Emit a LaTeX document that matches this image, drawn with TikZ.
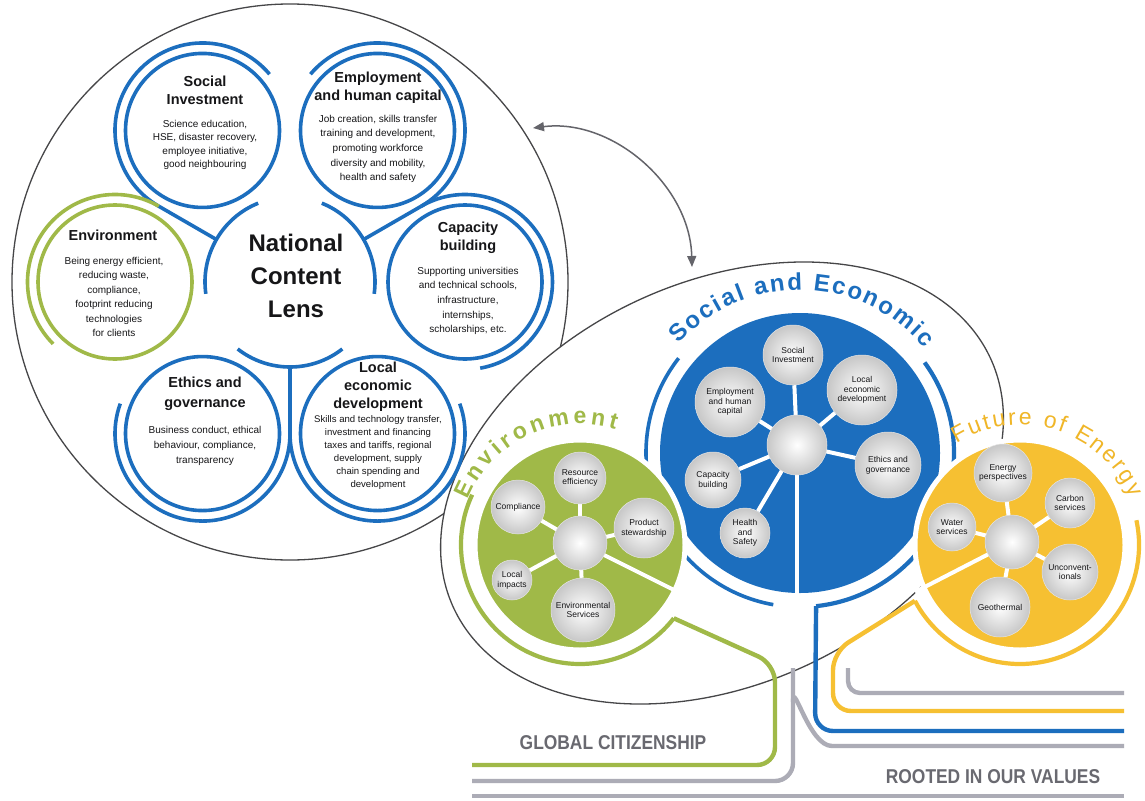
\documentclass[tikz,border=0pt]{standalone}
\usepackage{fontspec}
\setmainfont{Liberation Sans}
\usepackage{graphicx}
\usetikzlibrary{decorations.text,arrows.meta,calc}
\definecolor{nblue}{RGB}{28,110,190}
\definecolor{ngreen}{RGB}{160,185,72}
\definecolor{nyellow}{RGB}{246,192,50}
\definecolor{ntitle}{RGB}{240,182,40}
\definecolor{ngray}{RGB}{172,172,182}
\definecolor{nline}{RGB}{70,70,72}
\definecolor{ntext}{RGB}{22,22,24}
\definecolor{nlabel}{RGB}{105,105,112}
\definecolor{narrow}{RGB}{100,100,106}
\pgfdeclarelayer{bgA}
\pgfdeclarelayer{bgB}
\pgfsetlayers{bgA,bgB,main}
\begin{document}
\begin{tikzpicture}[x=1pt,y=-1pt,
  outline/.style={draw=nline, line width=1.3pt},
  bring/.style={draw=nblue, line width=3.6pt},
  ering/.style={draw=ngreen, line width=3.6pt},
  hd/.style={font=\fontsize{14.5}{18}\selectfont\bfseries, text=ntext, align=center, inner sep=0pt},
  bd/.style={font=\fontsize{10}{14}\selectfont, text=ntext, align=center, inner sep=0pt},
  wc/.style={circle, inner color=white, outer color=black!22, draw=black!10, line width=0.5pt, inner sep=0pt, align=center, font=\fontsize{8.5}{9.6}\selectfont, text=ntext},
  spoke/.style={draw=white, line width=4pt},
  disc/.style={draw=white, line width=5pt},
  rootline/.style={line width=4.4pt, rounded corners=18pt},
  lab/.style={font=\fontsize{20}{20}\selectfont\bfseries, text=nlabel, inner sep=0pt},
]
\begin{pgfonlayer}{bgA}
\fill[white] (0,0) rectangle (1145,800);
\end{pgfonlayer}
\useasboundingbox (0,0) rectangle (1145,800);

%%%%%%%%%%%%%%%% LEFT LENS
\coordinate (C) at (290,282);
\begin{pgfonlayer}{bgA}
\draw[outline] (C) circle[radius=278];
\end{pgfonlayer}
\foreach \n/\a in {1/-120,2/-60,3/0,4/60,5/120,6/180}
  \coordinate (P\n) at ($(C)+(\a:175)$);
\foreach \a in {-150,-30,90}{
  \draw[bring] ($(C)+({\a-38}:85)$) arc[start angle=\a-38, end angle=\a+38, radius=85];
  \draw[bring] ($(C)+(\a:85)$) -- ($(C)+(\a:151.55)$);
}
\foreach \n in {1,2,3,4,5} \draw[bring] (P\n) circle[radius=77];
\draw[ering] (P6) circle[radius=77];
\draw[bring] (P1) ++(120:87.5) arc[start angle=120,end angle=320,radius=87.5];
\draw[bring] (P2) ++(60:87.5) arc[start angle=60,end angle=-140,radius=87.5];
\draw[bring] (P3) ++(-120:87.5) arc[start angle=-120,end angle=80,radius=87.5];
\draw[bring] (P4) ++(180:87.5) arc[start angle=180,end angle=-20,radius=87.5];
\draw[bring] (P5) ++(0:87.5) arc[start angle=0,end angle=200,radius=87.5];
\draw[ering] (P6) ++(300:87.5) arc[start angle=300,end angle=135,radius=87.5];

\node[font=\fontsize{24}{33}\selectfont\bfseries, text=ntext, align=center] (ncl) at (296,276) {National\\Content\\Lens};

\node[hd] (t1h) at (205,90) {Social\\Investment};
\node[bd, font=\fontsize{10}{13.6}\selectfont] (t1b) at (205,145) {Science education,\\HSE, disaster recovery,\\employee initiative,\\good neighbouring};

\node[hd] (t2h) at (378,88) {Employment\\and human capital};
\node[bd, font=\fontsize{10}{14.6}\selectfont] (t2b) at (378,149) {Job creation, skills transfer\\training and development,\\promoting workforce\\diversity and mobility,\\health and safety};

\node[hd] (t3h) at (468,238) {Capacity\\building};
\node[bd, font=\fontsize{10}{14.6}\selectfont] (t3b) at (468,301) {Supporting universities\\and technical schools,\\infrastructure,\\internships,\\scholarships, etc.};

\node[hd] (t4h) at (378,387) {Local\\economic\\development};
\node[bd, font=\fontsize{9.6}{13}\selectfont] (t4b) at (378,453) {Skills and technology transfer,\\investment and financing\\taxes and tariffs, regional\\development, supply\\chain spending and\\development};

\node[hd, font=\fontsize{14.5}{20}\selectfont\bfseries] (t5h) at (205,394) {Ethics and\\governance};
\node[bd, font=\fontsize{10}{15}\selectfont] (t5b) at (205,446) {Business conduct, ethical\\behaviour, compliance,\\transparency};

\node[hd] (t6h) at (113,235) {Environment};
\node[bd, font=\fontsize{10}{14.4}\selectfont] (t6b) at (114,297) {Being energy efficient,\\reducing waste,\\compliance,\\footprint reducing\\technologies\\for clients};

%%%%%%%%%%%%%%%% RIGHT SIDE
\coordinate (B) at (800,453);
\coordinate (G) at (580,545);
\coordinate (Y) at (1020,545);
\begin{pgfonlayer}{bgA}
\draw[outline, fill=white] plot[variable=\t, domain=0:357, samples=120, smooth cycle] ({722+268.3*cos(\t)+84.9*sin(\t)}, {483-125.1*cos(\t)+182.2*sin(\t)});
% blue
\fill[nblue] (B) circle[radius=140];
\draw[bring] (B) ++(218:154) arc[start angle=218,end angle=100,radius=154];
\draw[draw=nblue, line width=4.2pt] (B) ++(324:154) arc[start angle=324,end angle=444,radius=154];
\draw[draw=nblue, rootline] ($(B)+(84:154)$) -- (815,731) -- (1124,731);
% green
\draw[disc, fill=ngreen] (G) circle[radius=105];
\draw[draw=ngreen, line width=4.2pt] (G) ++(205:119) arc[start angle=205,end angle=38,radius=119];
\draw[draw=ngreen, rootline] ($(G)+(38:119)$) -- (775,664) -- (775,765) -- (472,765);
% yellow
\draw[disc, fill=nyellow] (Y) circle[radius=105];
\draw[draw=nyellow, line width=4.2pt] (Y) ++(-12:119) arc[start angle=-12,end angle=152,radius=119];
\draw[draw=nyellow, rootline] ($(Y)+(152:119)$) -- (833,652) -- (833,711) -- (1124,711);
% gray roots
\draw[draw=ngray, rootline] (793,668) -- (793,781) -- (472,781);
\draw[draw=ngray, line width=4.4pt] (793,702) to[out=90,in=180] (832,746) -- (1124,746);
\draw[draw=ngray, rootline, rounded corners=12pt] (848,668) -- (848,693) -- (1124,693);
\draw[draw=ngray, line width=3.6pt] (472,796) -- (1124,796);
\end{pgfonlayer}

% curved titles
\path[decorate, decoration={text along path, text align=fit to path, text color=nblue, text={|\bfseries\fontsize{24}{24}\selectfont|Social and Economic}}] (B) ++(222:163) arc[start angle=222,end angle=320,radius=163];
\path[decorate, decoration={text along path, text align=fit to path, text color=ngreen, text={|\bfseries\fontsize{23}{23}\selectfont|Environment}}] (G) ++(202:121) arc[start angle=202,end angle=287,radius=121];
\path[decorate, decoration={text along path, text align=fit to path, text color=ntitle, text={|\fontsize{23}{23}\selectfont|Future of Energy}}] (Y) ++(238:120) arc[start angle=238,end angle=337,radius=120];

% blue sub circles
\node[wc, minimum size=60pt] (bsi) at (793,355) {Social\\Investment};
\node[wc, minimum size=70pt] (bled) at (862,390) {Local\\economic\\development};
\node[wc, minimum size=70pt] (behc) at (730,402) {Employment\\and human\\capital};
\node[wc, minimum size=60pt] (bhub) at (797,445) {};
\node[wc, minimum size=66pt] (beg) at (888,465) {Ethics and\\governance};
\node[wc, minimum size=56pt] (bcb) at (713,480) {Capacity\\building};
\node[wc, minimum size=50pt] (bhs) at (745,533) {Health\\and\\Safety};
\coordinate (bstem) at (797,602);
% green sub circles
\node[wc, minimum size=52pt] (gre) at (580,478) {Resource\\efficiency};
\node[wc, minimum size=54pt] (gco) at (518,507) {Compliance};
\node[wc, minimum size=60pt] (gps) at (644,528) {Product\\stewardship};
\node[wc, minimum size=40pt] (gli) at (512,580) {Local\\impacts};
\node[wc, minimum size=64pt] (ges) at (583,610) {Environmental\\Services};
\node[wc, minimum size=54pt] (ghub) at (580,543) {};
\coordinate (gstem) at (700,603);
% yellow sub circles
\node[wc, minimum size=58pt] (yep) at (1003,473) {Energy\\perspectives};
\node[wc, minimum size=50pt] (ycs) at (1070,503) {Carbon\\services};
\node[wc, minimum size=48pt] (yws) at (952,527) {Water\\services};
\node[wc, minimum size=56pt] (yun) at (1070,572) {Unconvent-\\ionals};
\node[wc, minimum size=60pt] (ygt) at (1000,607) {Geothermal};
\node[wc, minimum size=54pt] (yhub) at (1012,542) {};
\coordinate (ystem) at (915,592);

\begin{pgfonlayer}{bgB}
\foreach \t in {bsi,bled,behc,beg,bcb,bhs,bstem} \draw[spoke] (bhub.center) -- (\t);
\foreach \t in {gre,gco,gps,gli,ges,gstem} \draw[spoke] (ghub.center) -- (\t);
\foreach \t in {yep,ycs,yws,yun,ygt,ystem} \draw[spoke] (yhub.center) -- (\t);
\end{pgfonlayer}

% labels
\node[lab] (gcit) at (613,743) {\scalebox{0.87}[1]{GLOBAL CITIZENSHIP}};
\node[lab] (rval) at (993,777) {\scalebox{0.87}[1]{ROOTED IN OUR VALUES}};

% double arrow
\coordinate (arrA) at (533,128);
\coordinate (arrB) at (692,267);
\draw[draw=narrow, line width=1.5pt, {Triangle[length=11pt,width=9pt]}-{Triangle[length=11pt,width=9pt]}] (arrA) .. controls (612,118) and (690,185) .. (arrB);
\end{tikzpicture}
\end{document}
